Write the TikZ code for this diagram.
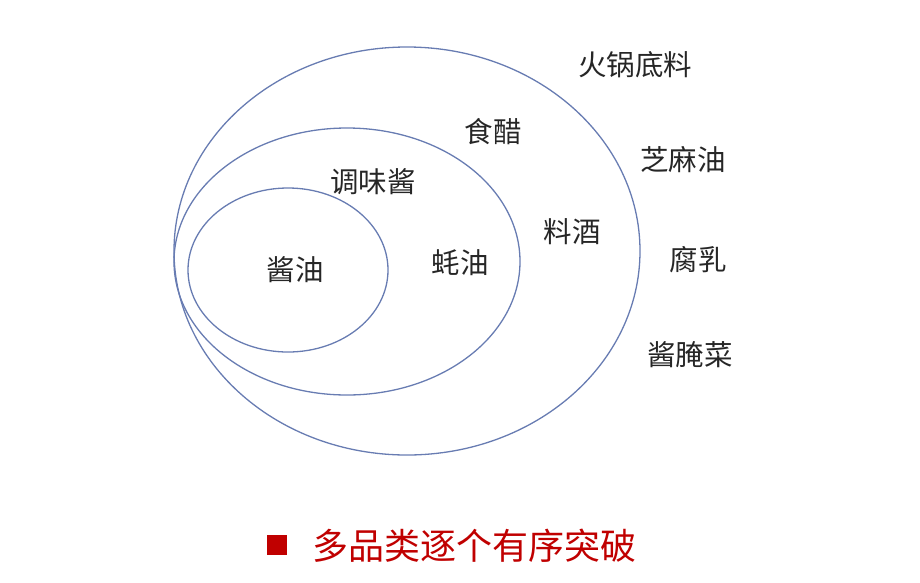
\documentclass[tikz,border=0pt]{standalone}
\usepackage{fontspec}
\setmainfont{Noto Sans CJK SC}
\usetikzlibrary{shapes}
\definecolor{ringblue}{RGB}{104,124,178}
\definecolor{titlered}{RGB}{192,0,0}
\tikzstyle{ring} = [ellipse,draw=ringblue,line width=1.3pt,inner sep=0pt]
\tikzstyle{lbl} = [font=\fontsize{28.5}{28.5}\selectfont,text=black!85,inner sep=0pt]

\begin{document}
\begin{tikzpicture}[x=1pt,y=-1pt]
    	\useasboundingbox (0,0) rectangle (920,582);

    	\node[ring,minimum width=466pt,minimum height=408pt](condiment) at (407,251) {};
    	\node[ring,minimum width=346pt,minimum height=267pt](sauce) at (347,261.5) {};
    	\node[ring,minimum width=200pt,minimum height=164pt](soy) at (288,270) {};

    	\node[lbl](soylabel) at (295,270) {酱油};
    	\node[lbl](oyster) at (460,263) {蚝油};
    	\node[lbl](saucelabel) at (373,182) {调味酱};
    	\node[lbl](vinegar) at (493,132) {食醋};
    	\node[lbl](wine) at (572,232) {料酒};
    	\node[lbl](hotpot) at (635,65) {火锅底料};
    	\node[lbl](sesame) at (683,160) {芝麻油};
    	\node[lbl](tofu) at (698,260) {腐乳};
    	\node[lbl](pickle) at (690,355) {酱腌菜};

    	\node[fill=titlered,minimum size=20pt,inner sep=0pt](bullet) at (277,545) {};
    	\node[font=\fontsize{36}{36}\selectfont,text=titlered,inner sep=0pt](title) at (474,546) {多品类逐个有序突破};

    	\end{tikzpicture}
\end{document}
